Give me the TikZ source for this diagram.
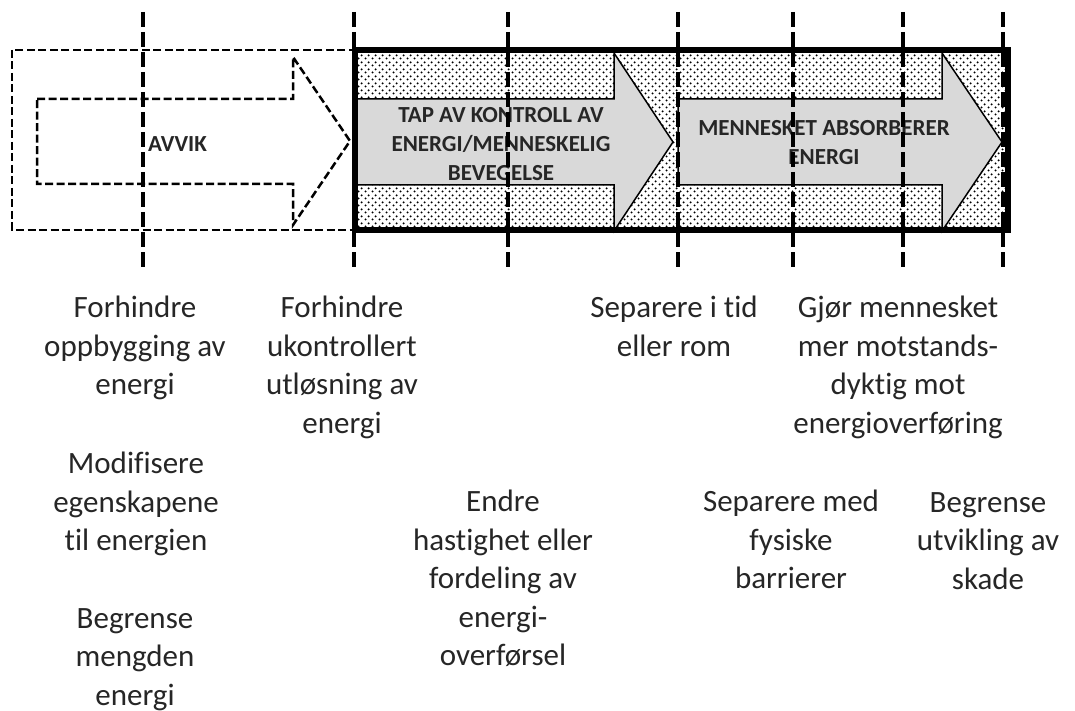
\documentclass[tikz,border=0pt]{standalone}
\usepackage{fontspec}
\setmainfont{Carlito}[Ligatures=NoCommon]
\usetikzlibrary{patterns.meta}
\definecolor{txt}{HTML}{262626}
\definecolor{arrowfill}{HTML}{D9D9D9}
\pgfdeclarepattern{
  name=refdots,
  type=uncolored,
  bottom left={\pgfpoint{0pt}{0pt}},
  top right={\pgfpoint{7pt}{7pt}},
  tile size={\pgfpoint{7pt}{7pt}},
  code={
    \pgfpathcircle{\pgfpoint{1.75pt}{1.75pt}}{1.2pt}
    \pgfpathcircle{\pgfpoint{5.25pt}{5.25pt}}{1.2pt}
    \pgfusepath{fill}
  }
}
\tikzset{
  lbl/.style={font=\fontsize{31}{38.5}\selectfont, text=txt, align=center, inner sep=0pt, anchor=north},
  headtxt/.style={font=\bfseries\fontsize{23}{29}\selectfont, text=txt, align=center, inner sep=0pt},
  guide/.style={line width=4.5pt, dash pattern=on 15pt off 5pt},
  dashframe/.style={line width=2.5pt, dash pattern=on 8pt off 3.5pt},
  bigarrow/.style={fill=arrowfill, draw=black, line width=1.5pt, line join=miter},
  phasebox/.style={line width=5.5pt, draw=black}
}
\begin{document}
\begin{tikzpicture}[x=1pt,y=-1pt]
\useasboundingbox (0,0) rectangle (1075,711);
% dashed "AVVIK" frame and arrow
\draw[dashframe] (12,50) rectangle (355,230);
\draw[dashframe] (37,99) -- (293,99) -- (293,57) -- (350,141) -- (293,225) -- (293,184) -- (37,184) -- cycle;
% solid box with dotted fill
\fill[pattern=refdots, pattern color=black] (355,50) rectangle (1008,230);
% grey arrows
\draw[bigarrow] (355,99) -- (614,99) -- (614,53) -- (673,142) -- (614,231) -- (614,185) -- (355,185) -- cycle;
\draw[bigarrow] (678,99) -- (942,99) -- (942,53) -- (1002,142) -- (942,231) -- (942,185) -- (678,185) -- cycle;
\draw[phasebox] (355,50) rectangle (1008,230);
% arrow texts
\node[headtxt, anchor=base west] (a0t) at (148,152) {AVVIK};
\node[headtxt, anchor=north] (a1t) at (501,107) {TAP AV KONTROLL AV\\ENERGI/MENNESKELIG\\BEVEGELSE};
\node[headtxt, anchor=north] (a2t) at (824,120) {MENNESKET ABSORBERER\\ENERGI};
% vertical guide lines
\foreach \n/\x in {g1/143, g2/354, g3/508, g4/678, g5/793, g6/903, g7/1003} {
  \coordinate (\n top) at (\x,12);
  \coordinate (\n bot) at (\x,268);
  \draw[guide] (\n top) -- (\n bot);
}
% lower labels
\node[lbl] (t1) at (135,296) {Forhindre\\oppbygging av\\energi};
\node[lbl] (t2) at (342,296) {Forhindre\\ukontrollert\\utløsning av\\energi};
\node[lbl] (t3) at (136,452) {Modifisere\\egenskapene\\til energien};
\node[lbl] (t4) at (135,608) {Begrense\\mengden\\energi};
\node[lbl] (t5) at (503,490) {Endre\\hastighet eller\\fordeling av\\energi-\\overførsel};
\node[lbl] (t6) at (674,296) {Separere i tid\\eller rom};
\node[lbl] (t7) at (898,296) {Gjør mennesket\\mer motstands-\\dyktig mot\\energioverføring};
\node[lbl] (t8) at (791,490) {Separere med\\fysiske\\barrierer};
\node[lbl] (t9) at (988,492) {Begrense\\utvikling av\\skade};
\end{tikzpicture}
\end{document}
